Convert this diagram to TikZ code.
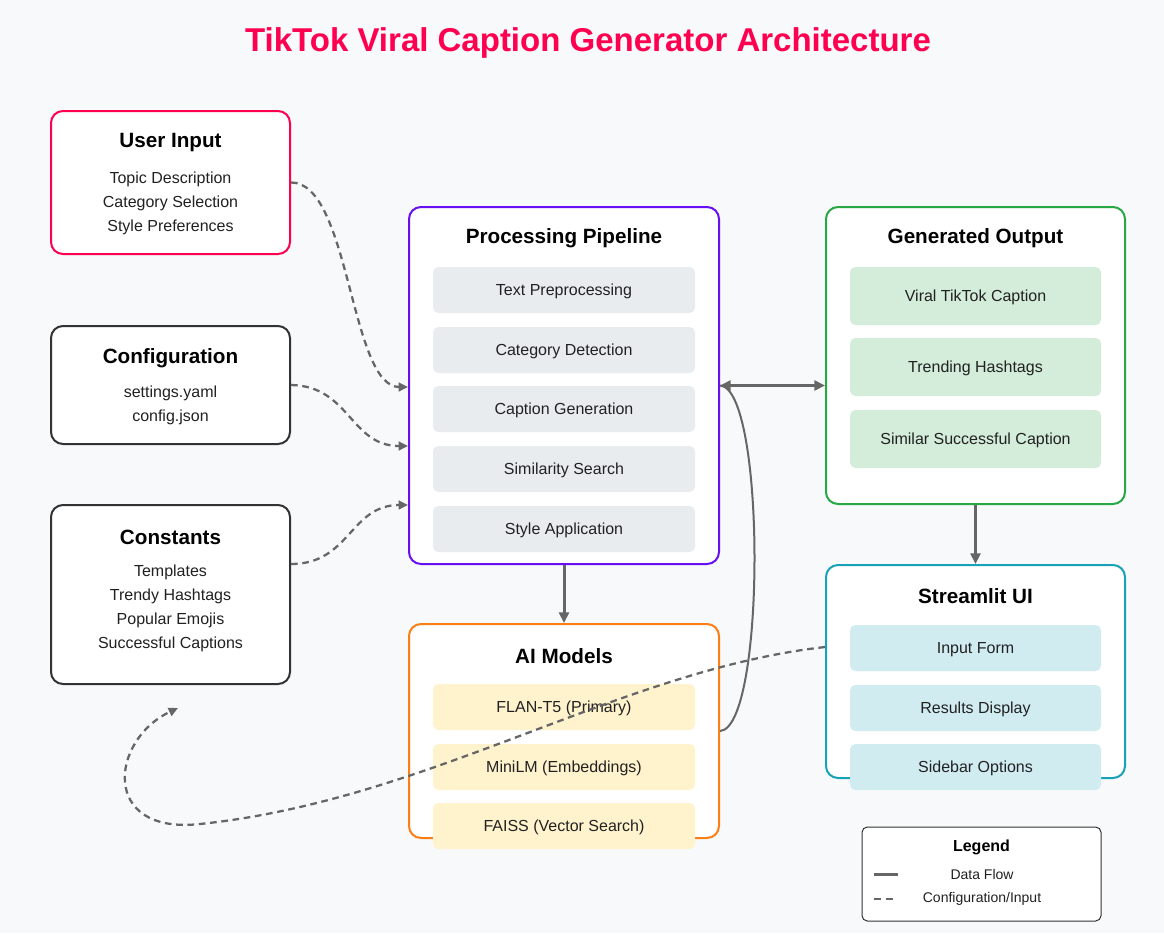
\documentclass[tikz,border=0pt]{standalone}
\usepackage{fontspec}
\setmainfont{Liberation Sans}
\usetikzlibrary{arrows.meta,calc}
\definecolor{bg}{HTML}{F8F9FA}
\definecolor{tik}{HTML}{FF0050}
\definecolor{dark}{HTML}{333333}
\definecolor{purp}{HTML}{6610F2}
\definecolor{grn}{HTML}{28A745}
\definecolor{teal}{HTML}{17A2B8}
\definecolor{orng}{HTML}{FD7E14}
\definecolor{sgray}{HTML}{E9ECEF}
\definecolor{sgrn}{HTML}{D4EDDA}
\definecolor{steal}{HTML}{D1ECF1}
\definecolor{syel}{HTML}{FFF3CD}
\definecolor{conn}{HTML}{666666}
\definecolor{txt}{HTML}{212121}
\begin{document}
\begin{tikzpicture}[x=0.75pt,y=-0.75pt,
  box/.style={draw=#1, line width=1.5pt, fill=white, rounded corners=9pt, inner sep=0pt},
  sub/.style={fill=#1, rounded corners=4pt, inner sep=0pt, text=txt, font=\fontsize{12}{14}\selectfont, text depth=0pt, text height=8.6pt},
  ttl/.style={font=\bfseries\fontsize{15.5}{18}\selectfont, text=black, yshift=-2.25pt},
  body/.style={font=\fontsize{12}{18}\selectfont, align=center, text=txt, yshift=-1.5pt},
  flow/.style={draw=conn, line width=2.25pt, -{Triangle[length=8pt,width=7.5pt]}},
  cfg/.style={draw=conn, line width=1.7pt, dash pattern=on 5pt off 3.5pt, -{Triangle[length=7pt,width=6.5pt]}},
]
\fill[bg] (0,0) rectangle (1164,933);
\useasboundingbox (0,0) rectangle (1164,933);

% title
\node[font=\bfseries\fontsize{24.75}{28}\selectfont, text=tik] (title) at (588,43) {TikTok Viral Caption Generator Architecture};

% left boxes
\node[box=tik, minimum width=179.25pt, minimum height=107.25pt] (ui) at (170.5,182.5) {};
\node[ttl] (uit) at (170.5,140) {User Input};
\node[body] (uib) at (170.5,201) {Topic Description\\Category Selection\\Style Preferences};

\node[box=dark, minimum width=179.25pt, minimum height=88.5pt] (cf) at (170.5,385) {};
\node[ttl] (cft) at (170.5,355) {Configuration};
\node[body] (cfb) at (170.5,403) {settings.yaml\\config.json};

\node[box=dark, minimum width=179.25pt, minimum height=134.25pt] (cs) at (170.5,594.5) {};
\node[ttl] (cst) at (170.5,534) {Constants};
\node[body] (csb) at (170.5,606) {Templates\\Trendy Hashtags\\Popular Emojis\\Successful Captions};

% processing pipeline
\node[box=purp, minimum width=232.5pt, minimum height=267.75pt] (pp) at (564,385.5) {};
\node[ttl] (ppt) at (564,235) {Processing Pipeline};
\node[sub=sgray, minimum width=196.5pt, minimum height=34.5pt] (pp1) at (564,290) {Text Preprocessing};
\node[sub=sgray, minimum width=196.5pt, minimum height=34.5pt] (pp2) at (564,350) {Category Detection};
\node[sub=sgray, minimum width=196.5pt, minimum height=34.5pt] (pp3) at (564,409) {Caption Generation};
\node[sub=sgray, minimum width=196.5pt, minimum height=34.5pt] (pp4) at (564,469) {Similarity Search};
\node[sub=sgray, minimum width=196.5pt, minimum height=34.5pt] (pp5) at (564,529) {Style Application};

% AI models
\node[box=orng, minimum width=232.5pt, minimum height=160.5pt] (ai) at (564,731) {};
\node[ttl] (ait) at (564,653) {AI Models};
\node[sub=syel, minimum width=196.5pt, minimum height=34.5pt] (ai1) at (564,707) {FLAN-T5 (Primary)};
\node[sub=syel, minimum width=196.5pt, minimum height=34.5pt] (ai2) at (564,767) {MiniLM (Embeddings)};
\node[sub=syel, minimum width=196.5pt, minimum height=34.5pt] (ai3) at (564,826) {FAISS (Vector Search)};

% generated output
\node[box=grn, minimum width=224.25pt, minimum height=222.75pt] (go) at (975.5,355.5) {};
\node[ttl] (got) at (975.5,235) {Generated Output};
\node[sub=sgrn, minimum width=188.25pt, minimum height=43.5pt] (go1) at (975.5,296) {Viral TikTok Caption};
\node[sub=sgrn, minimum width=188.25pt, minimum height=43.5pt] (go2) at (975.5,367) {Trending Hashtags};
\node[sub=sgrn, minimum width=188.25pt, minimum height=43.5pt] (go3) at (975.5,439) {Similar Successful Caption};

% streamlit
\node[box=teal, minimum width=224.25pt, minimum height=159.75pt] (su) at (975.5,671.5) {};
\node[ttl] (sut) at (975.5,593) {Streamlit UI};
\node[sub=steal, minimum width=188.25pt, minimum height=34.5pt] (su1) at (975.5,648) {Input Form};
\node[sub=steal, minimum width=188.25pt, minimum height=34.5pt] (su2) at (975.5,708) {Results Display};
\node[sub=steal, minimum width=188.25pt, minimum height=34.5pt] (su3) at (975.5,767) {Sidebar Options};

% legend
\node[draw=dark, line width=0.75pt, fill=white, rounded corners=4pt, minimum width=179.25pt, minimum height=70.5pt] (lg) at (981.5,874) {};
\node[font=\bfseries\fontsize{12}{14}\selectfont, yshift=-1.5pt] (lgt) at (981.5,845) {Legend};
\node[font=\fontsize{10.5}{12}\selectfont, text=txt] (lg1) at (982,874) {Data Flow};
\node[font=\fontsize{10.5}{12}\selectfont, text=txt] (lg2) at (982,899) {Configuration/Input};
\coordinate (ls1) at (874,874);
\coordinate (le1) at (898,874);
\coordinate (ls2) at (874,899);
\coordinate (le2) at (893,899);
\draw[draw=conn, line width=2.25pt] (ls1) -- (le1);
\draw[draw=conn, line width=1.7pt, dash pattern=on 5pt off 4pt] (ls2) -- (le2);

% dashed config connectors
\draw[cfg] (ui.east) .. controls (350,182) and (350,387) .. ($(pp.west)+(0,1.5)$);
\draw[cfg] (cf.east) .. controls (350,386) and (350,446) .. ($(pp.west)+(0,60.5)$);
\draw[cfg] ($(cs.east)+(0,-30.5)$) .. controls (350,564) and (350,505) .. ($(pp.west)+(0,119.5)$);

% data flow
\draw[draw=conn, line width=2.25pt, {Triangle[length=8pt,width=7.5pt]}-{Triangle[length=8pt,width=7.5pt]}] (pp.east) -- (pp.east -| go.west);
\draw[draw=conn, line width=1.5pt] (pp.east) .. controls (766,388) and (766,728) .. (ai.east);
\draw[flow] (pp.south) -- (ai.north);
\draw[flow] (go.south) -- (su.north);

% streamlit back to constants
\coordinate (back) at (178,708);
\coordinate (bend) at (200,824);
\draw[cfg] ($(su.west)+(0,-24.5)$) .. controls (620,670) and (430,800) .. (bend) .. controls (100,835) and (110,740) .. (back);
\end{tikzpicture}
\end{document}
